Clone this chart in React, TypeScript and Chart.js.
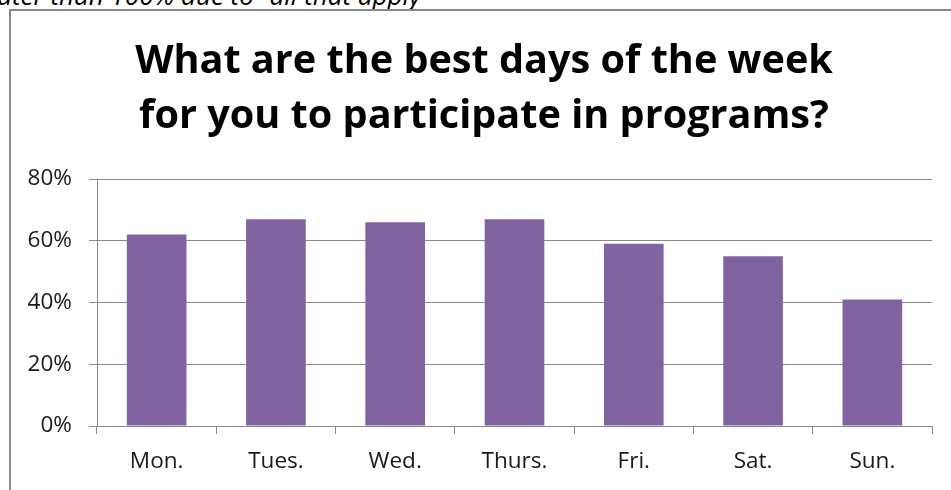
import React, { useEffect, useRef } from 'react';
import { Chart, registerables } from 'chart.js';

Chart.register(...registerables);

const categories = ['Mon.', 'Tues.', 'Wed.', 'Thurs.', 'Fri.', 'Sat.', 'Sun.'];
const values = [62, 67, 66, 67, 59, 55, 41];
const titleLines = ['What are the best days of the week', 'for you to participate in programs?'];
const yTicks = [0, 20, 40, 60, 80];
const noteText = 'greater than 100% due to \u201Call that apply\u201D';

const FAMILY = "'Open Sans', sans-serif";

function fitSize(text: string, weight: string, targetWidth: number): number {
  const ctx = document.createElement('canvas').getContext('2d')!;
  ctx.font = `${weight} 100px ${FAMILY}`;
  const w = ctx.measureText(text).width;
  return (100 * targetWidth) / w;
}

export default function App() {
  const canvasRef = useRef<HTMLCanvasElement | null>(null);

  useEffect(() => {
    const canvas = canvasRef.current;
    if (!canvas) return;
    const titleSize = fitSize(titleLines[0], 'bold', 698);
    const tickSize = fitSize('Thurs.', 'normal', 66);
    const gridColor = '#888888';

    const titlePlugin = {
      id: 'centeredTitle',
      afterDraw(chart: any) {
        const ctx = chart.ctx;
        ctx.save();
        ctx.font = `bold ${titleSize}px ${FAMILY}`;
        ctx.fillStyle = '#000000';
        ctx.textAlign = 'center';
        ctx.textBaseline = 'alphabetic';
        const baselines = [73, 128];
        titleLines.forEach((line, i) => ctx.fillText(line, 484, baselines[i]));
        ctx.restore();
      },
    };

    const chart = new Chart(canvas, {
      type: 'bar',
      data: {
        labels: categories,
        datasets: [
          {
            data: values,
            backgroundColor: '#8064A2',
            borderWidth: 0,
            barPercentage: 0.5,
            categoryPercentage: 1,
          },
        ],
      },
      options: {
        animation: false,
        responsive: false,
        maintainAspectRatio: false,
        devicePixelRatio: 1,
        layout: { padding: { left: 0, right: 19, top: 179, bottom: 0 } },
        plugins: {
          legend: { display: false },
          tooltip: { enabled: false },
          title: { display: false },
        },
        scales: {
          y: {
            min: 0,
            max: 80,
            afterBuildTicks: (s: any) => {
              s.ticks = yTicks.map((v) => ({ value: v }));
            },
            afterFit: (s: any) => {
              s.width = 97;
            },
            ticks: {
              callback: (v: any) => `${v}%`,
              font: { family: FAMILY, size: tickSize },
              color: '#1a1a1a',
              padding: 17,
            },
            grid: { color: gridColor, tickLength: 8, drawTicks: true, lineWidth: 1 },
            border: { color: gridColor, width: 1 },
          },
          x: {
            afterFit: (s: any) => {
              s.height = 64;
            },
            ticks: {
              font: { family: FAMILY, size: tickSize },
              color: '#1a1a1a',
              padding: 14,
            },
            grid: {
              color: gridColor,
              drawOnChartArea: false,
              drawTicks: true,
              tickLength: 8,
              offset: true,
            },
            border: { color: gridColor, width: 1 },
          },
        },
      },
      plugins: [titlePlugin],
    } as any);
    return () => chart.destroy();
  }, []);

  return (
    <div
      style={{
        position: 'fixed',
        left: 0,
        top: 0,
        width: 951,
        height: 490,
        overflow: 'hidden',
        background: '#ffffff',
      }}
    >
      <div
        style={{
          position: 'absolute',
          right: 521,
          top: -18.1,
          whiteSpace: 'nowrap',
          fontFamily: FAMILY,
          fontStyle: 'italic',
          fontSize: 26,
          lineHeight: '26px',
          color: '#000000',
        }}
      >
        {noteText}
      </div>
      <div
        style={{
          position: 'absolute',
          left: 9,
          top: 9,
          width: 1000,
          height: 600,
          border: '2px solid #888888',
        }}
      />
      <canvas
        ref={canvasRef}
        width={951}
        height={490}
        style={{ position: 'absolute', left: 0, top: 0, width: 951, height: 490 }}
      />
    </div>
  );
}
